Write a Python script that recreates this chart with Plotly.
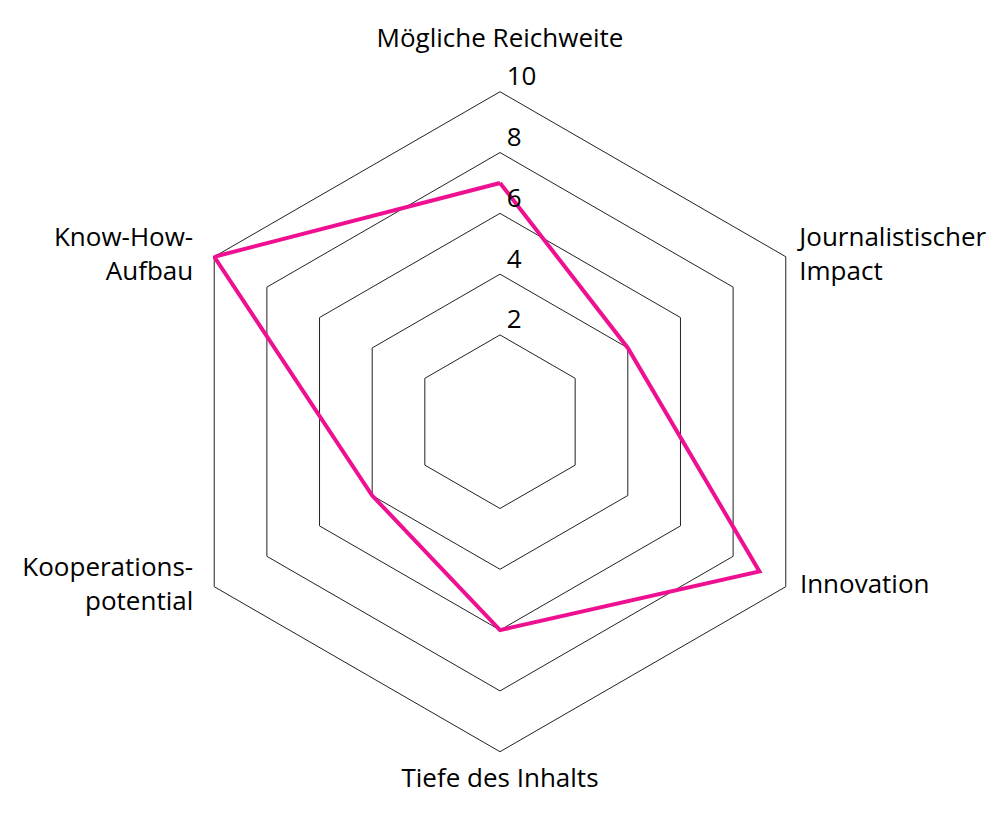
import plotly.graph_objects as go

categories = ["Mögliche Reichweite", "Journalistischer Impact", "Innovation",
              "Tiefe des Inhalts", "Kooperationspotential", "Know-How-Aufbau"]
category_labels = ["Mögliche Reichweite", "Journalistischer<br>Impact", "Innovation",
                   "Tiefe des Inhalts", "Kooperations-<br>potential", "Know-How-<br>Aufbau"]
values = [7, 4, 9, 6, 4, 10]
tick_values = [0, 2, 4, 6, 8, 10]
tick_labels = ["0", "2", "4", "6", "8", "10"]
grid_values = [2, 4, 6, 8, 10]
R_MAX = 10

# layout / style (not data)
label_positions = ["top center", "middle right", "middle right",
                   "bottom center", "middle left", "middle left"]
label_offsets = [60, 20, 21, 23, 32, 32]  # invisible marker sizes -> text offset

FONT = "Open Sans"
FS = 26
PINK = "#ee1090"

fig = go.Figure()
fig.add_trace(go.Scatterpolar(
    r=values + values[:1],
    theta=categories + categories[:1],
    mode="lines",
    line=dict(color=PINK, width=4),
    hoverinfo="skip",
    showlegend=False,
))
# radial tick labels
fig.add_trace(go.Scatterpolar(
    r=tick_values,
    theta=[categories[0]] * len(tick_values),
    mode="text",
    text=["\u00a0" + t for t in tick_labels],
    textposition="top right",
    textfont=dict(family=FONT, size=FS, color="#000"),
    hoverinfo="skip",
    showlegend=False,
    cliponaxis=False,
))
# category labels
fig.add_trace(go.Scatterpolar(
    r=[R_MAX] * len(categories),
    theta=categories,
    mode="markers+text",
    marker=dict(size=label_offsets, opacity=0, color="white"),
    text=category_labels,
    textposition=label_positions,
    textfont=dict(family=FONT, size=FS, color="#000"),
    hoverinfo="skip",
    showlegend=False,
    cliponaxis=False,
))

fig.update_layout(
    width=1000, height=824,
    margin=dict(l=0, r=0, t=0, b=0),
    paper_bgcolor="white",
    font=dict(family=FONT, size=FS, color="#000"),
    polar=dict(
        domain=dict(x=[0.1685, 0.8315], y=[0.0859, 0.8905]),
        bgcolor="white",
        gridshape="linear",
        radialaxis=dict(
            range=[-0.855, R_MAX + 0.05],
            tickvals=grid_values,
            showticklabels=False,
            ticks="",
            showline=False,
            gridcolor="#222",
            gridwidth=0.8,
            angle=90,
        ),
        angularaxis=dict(
            direction="clockwise",
            rotation=90,
            showgrid=False,
            showline=False,
            ticks="",
            showticklabels=False,
        ),
    ),
)
fig.write_html("out.html")
